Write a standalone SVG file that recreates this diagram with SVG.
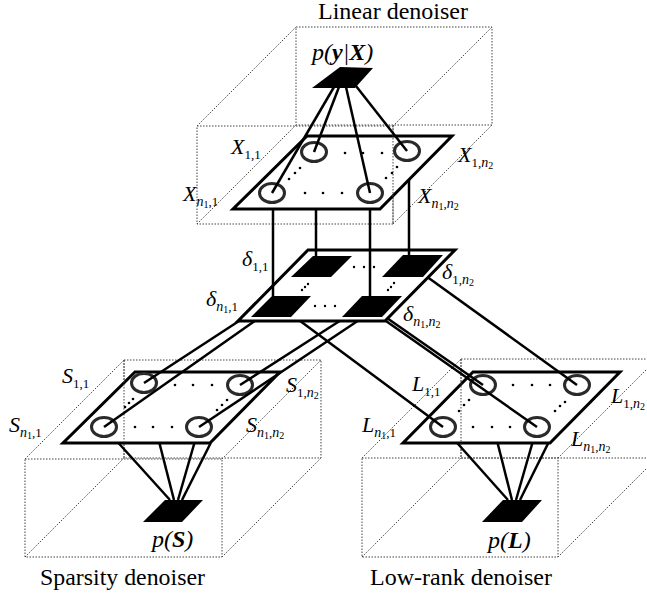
<svg xmlns="http://www.w3.org/2000/svg" width="647" height="595" viewBox="0 0 647 595">
<style>
.box{fill:none;stroke:#444;stroke-width:1;stroke-dasharray:1.5 1.5}
.plane{fill:#fff;stroke:#000;stroke-width:3;stroke-linejoin:miter}
.fac{fill:#000}
.var{fill:none;stroke:#2a2a2a;stroke-width:3}
.dot{fill:#000}
.con{stroke:#000;stroke-width:2.5;fill:none;stroke-linecap:butt}
.lb{font-family:"Liberation Serif",serif;font-style:italic;font-size:22px;fill:#000}
.sb{font-size:13px;font-style:normal}
.sn{font-size:14px;font-style:italic}
.ss{font-size:10px;font-style:normal}
.big{font-family:"Liberation Serif",serif;font-style:italic;font-size:24px;fill:#000}
.ttl{font-family:"Liberation Serif",serif;font-size:23px;fill:#000}
</style>
<defs>
<filter id="soft" x="-20%" y="-20%" width="140%" height="140%"><feGaussianBlur stdDeviation="0.55"/></filter>
</defs>

<!-- dotted boxes -->
<g id="box-linear"><path class="box" d="M197,126H393V224H197Z M296,27H492V125H296Z M197,126L296,27 M393,126L492,27 M393,224L492,125 M197,224L296,125"/></g>
<g id="box-sparsity"><path class="box" d="M25,459H222V557H25Z M124,360H321V458H124Z M25,459L124,360 M222,459L321,360 M222,557L321,458 M25,557L124,458"/></g>
<g id="box-lowrank"><path class="box" d="M362,458H558V557H362Z M461,359H657V458H461Z M362,458L461,359 M558,458L657,359 M558,557L657,458 M362,557L461,458"/></g>

<!-- planes -->
<g id="plane-S"><polygon class="plane" points="135,372 280,372 210,443 63,443"/><path class="box" d="M124,360V458"/></g>
<g id="plane-L"><polygon class="plane" points="473,372 620,372 550,443 403,443"/><path class="box" d="M461,359V458"/></g>
<g id="plane-delta"><polygon class="plane" points="308,250 455,250 385,321 238,321"/></g>
<g id="plane-X"><polygon class="plane" points="307,136 452,136 380,209 233,209"/><path class="box" d="M393,126V224"/></g>

<!-- variable nodes X -->
<g id="X11"><ellipse class="var" filter="url(#soft)" cx="314" cy="152" rx="12.5" ry="9.5"/></g>
<g id="X1n2"><ellipse class="var" filter="url(#soft)" cx="407" cy="151" rx="12.5" ry="9.5"/></g>
<g id="Xn11"><ellipse class="var" filter="url(#soft)" cx="272" cy="193" rx="12.5" ry="9.5"/></g>
<g id="Xn1n2"><ellipse class="var" filter="url(#soft)" cx="370" cy="193" rx="12.5" ry="9.5"/></g>
<g id="X-dots" class="dot">
<circle cx="345" cy="153" r="1.3"/><circle cx="363" cy="153" r="1.3"/><circle cx="382" cy="153" r="1.3"/>
<circle cx="305" cy="193" r="1.3"/><circle cx="323" cy="193" r="1.3"/><circle cx="342" cy="193" r="1.3"/>
<circle cx="300" cy="168" r="1.3"/><circle cx="295" cy="173" r="1.3"/><circle cx="289" cy="179" r="1.3"/>
<circle cx="397" cy="167" r="1.3"/><circle cx="392" cy="173" r="1.3"/><circle cx="386" cy="178" r="1.3"/>
</g>

<!-- delta factor nodes -->
<g id="d11"><polygon class="fac" points="313,256 352,256 331,277 291,277"/></g>
<g id="d1n2"><polygon class="fac" points="403,255 443,255 423,277 382,277"/></g>
<g id="dn11"><polygon class="fac" points="272,296 311,296 291,317 251,317"/></g>
<g id="dn1n2"><polygon class="fac" points="362,296 402,296 382,317 342,317"/></g>
<g id="d-dots" class="dot">
<circle cx="354" cy="267" r="1.2"/><circle cx="364" cy="267" r="1.2"/><circle cx="374" cy="267" r="1.2"/>
<circle cx="315" cy="306" r="1.2"/><circle cx="325" cy="306" r="1.2"/><circle cx="335" cy="306" r="1.2"/>
<circle cx="308" cy="284" r="1.2"/><circle cx="305" cy="287" r="1.2"/><circle cx="302" cy="290" r="1.2"/>
<circle cx="394" cy="283" r="1.2"/><circle cx="391" cy="287" r="1.2"/><circle cx="388" cy="290" r="1.2"/>
</g>

<!-- S variable nodes -->
<g id="S11"><ellipse class="var" filter="url(#soft)" cx="144" cy="383" rx="12.5" ry="9.5"/></g>
<g id="S1n2"><ellipse class="var" filter="url(#soft)" cx="240" cy="385" rx="12.5" ry="9.5"/></g>
<g id="Sn11"><ellipse class="var" filter="url(#soft)" cx="104" cy="427" rx="12.5" ry="9.5"/></g>
<g id="Sn1n2"><ellipse class="var" filter="url(#soft)" cx="199" cy="427" rx="12.5" ry="9.5"/></g>
<g id="S-dots" class="dot">
<circle cx="175" cy="385" r="1.3"/><circle cx="193" cy="385" r="1.3"/><circle cx="212" cy="385" r="1.3"/>
<circle cx="135" cy="427" r="1.3"/><circle cx="153" cy="427" r="1.3"/><circle cx="172" cy="427" r="1.3"/>
<circle cx="133" cy="399" r="1.3"/><circle cx="129" cy="403" r="1.3"/><circle cx="125" cy="407" r="1.3"/>
<circle cx="227" cy="400" r="1.3"/><circle cx="222" cy="405" r="1.3"/><circle cx="217" cy="410" r="1.3"/>
</g>

<!-- L variable nodes -->
<g id="L11"><ellipse class="var" filter="url(#soft)" cx="483" cy="385" rx="12.5" ry="9.5"/></g>
<g id="L1n2"><ellipse class="var" filter="url(#soft)" cx="577" cy="385" rx="12.5" ry="9.5"/></g>
<g id="Ln11"><ellipse class="var" filter="url(#soft)" cx="443" cy="427" rx="12.5" ry="9.5"/></g>
<g id="Ln1n2"><ellipse class="var" filter="url(#soft)" cx="537" cy="427" rx="12.5" ry="9.5"/></g>
<g id="L-dots" class="dot">
<circle cx="513" cy="385" r="1.3"/><circle cx="532" cy="385" r="1.3"/><circle cx="550" cy="385" r="1.3"/>
<circle cx="473" cy="427" r="1.3"/><circle cx="492" cy="427" r="1.3"/><circle cx="510" cy="427" r="1.3"/>
<circle cx="469" cy="400" r="1.3"/><circle cx="464" cy="405" r="1.3"/><circle cx="459" cy="411" r="1.3"/>
<circle cx="565" cy="402" r="1.3"/><circle cx="560" cy="406" r="1.3"/><circle cx="555" cy="411" r="1.3"/>
</g>

<!-- prior / likelihood factors -->
<g id="pyX"><polygon class="fac" points="340,67 373,68 355,88 312,88"/></g>
<g id="pS"><polygon class="fac" points="165,500 203,500 182,522 143,522"/></g>
<g id="pL"><polygon class="fac" points="503,500 542,500 522,522 482,522"/></g>

<!-- connectors -->
<g id="connectors" class="con">
<line x1="334" y1="87" x2="272" y2="193"/>
<line x1="339" y1="87" x2="314" y2="152"/>
<line x1="346" y1="87" x2="370" y2="193"/>
<line x1="356" y1="86" x2="407" y2="151"/>
<line x1="273" y1="209" x2="273" y2="296"/>
<line x1="316" y1="209" x2="316" y2="256"/>
<line x1="370" y1="209" x2="370" y2="297"/>
<line x1="409" y1="179.6" x2="409" y2="255"/>
<line x1="239" y1="321" x2="144" y2="383"/>
<line x1="254.7" y1="321" x2="104" y2="427"/>
<line x1="339.6" y1="321" x2="240" y2="385"/>
<line x1="357.6" y1="321" x2="199" y2="427"/>
<line x1="300.2" y1="321" x2="443" y2="427"/>
<line x1="428" y1="277.5" x2="577" y2="385"/>
<line x1="387.3" y1="318.3" x2="483" y2="385"/>
<line x1="385.6" y1="320.8" x2="537" y2="427"/>
<line x1="118.5" y1="443" x2="170" y2="500"/>
<line x1="159.4" y1="443" x2="174" y2="500"/>
<line x1="194.4" y1="443" x2="178" y2="500"/>
<line x1="210.7" y1="443" x2="182" y2="500"/>
<line x1="457.2" y1="443" x2="508" y2="500"/>
<line x1="497.6" y1="443" x2="512" y2="500"/>
<line x1="532.4" y1="443" x2="516" y2="500"/>
<line x1="548.3" y1="443" x2="520" y2="500"/>
</g>

<!-- labels -->
<g id="labels">
<text class="ttl" x="318" y="19" textLength="150" lengthAdjust="spacingAndGlyphs">Linear denoiser</text>
<text class="ttl" x="40" y="585" textLength="165" lengthAdjust="spacingAndGlyphs">Sparsity denoiser</text>
<text class="ttl" x="370" y="585" textLength="182" lengthAdjust="spacingAndGlyphs">Low-rank denoiser</text>
<text class="big" x="312" y="60">p(<tspan font-weight="bold">y</tspan>|<tspan font-weight="bold">X</tspan>)</text>
<text class="big" x="152" y="547">p(<tspan font-weight="bold">S</tspan>)</text>
<text class="big" x="488" y="548">p(<tspan font-weight="bold">L</tspan>)</text>

<text class="lb" x="231" y="154">X<tspan class="sb" dy="5">1,1</tspan></text>
<text class="lb" x="183" y="201">X<tspan class="sn" dy="5">n</tspan><tspan class="ss" dy="2">1</tspan><tspan class="sb" dy="-2">,1</tspan></text>
<text class="lb" x="458" y="162">X<tspan class="sb" dy="5">1,</tspan><tspan class="sn">n</tspan><tspan class="ss" dy="2">2</tspan></text>
<text class="lb" x="418" y="203">X<tspan class="sn" dy="5">n</tspan><tspan class="ss" dy="2">1</tspan><tspan class="sb" dy="-2">,</tspan><tspan class="sn">n</tspan><tspan class="ss" dy="2">2</tspan></text>

<text class="lb" x="242" y="266">δ<tspan class="sb" dy="5">1,1</tspan></text>
<text class="lb" x="206" y="306">δ<tspan class="sn" dy="5">n</tspan><tspan class="ss" dy="2">1</tspan><tspan class="sb" dy="-2">,1</tspan></text>
<text class="lb" x="442" y="279">δ<tspan class="sb" dy="5">1,</tspan><tspan class="sn">n</tspan><tspan class="ss" dy="2">2</tspan></text>
<text class="lb" x="403" y="321">δ<tspan class="sn" dy="5">n</tspan><tspan class="ss" dy="2">1</tspan><tspan class="sb" dy="-2">,</tspan><tspan class="sn">n</tspan><tspan class="ss" dy="2">2</tspan></text>

<text class="lb" x="62" y="383">S<tspan class="sb" dy="5">1,1</tspan></text>
<text class="lb" x="9" y="432">S<tspan class="sn" dy="5">n</tspan><tspan class="ss" dy="2">1</tspan><tspan class="sb" dy="-2">,1</tspan></text>
<text class="lb" x="286" y="392">S<tspan class="sb" dy="5">1,</tspan><tspan class="sn">n</tspan><tspan class="ss" dy="2">2</tspan></text>
<text class="lb" x="246" y="432">S<tspan class="sn" dy="5">n</tspan><tspan class="ss" dy="2">1</tspan><tspan class="sb" dy="-2">,</tspan><tspan class="sn">n</tspan><tspan class="ss" dy="2">2</tspan></text>

<text class="lb" x="412" y="391">L<tspan class="sb" dy="5">1,1</tspan></text>
<text class="lb" x="362" y="432">L<tspan class="sn" dy="5">n</tspan><tspan class="ss" dy="2">1</tspan><tspan class="sb" dy="-2">,1</tspan></text>
<text class="lb" x="611" y="403">L<tspan class="sb" dy="5">1,</tspan><tspan class="sn">n</tspan><tspan class="ss" dy="2">2</tspan></text>
<text class="lb" x="571" y="446">L<tspan class="sn" dy="5">n</tspan><tspan class="ss" dy="2">1</tspan><tspan class="sb" dy="-2">,</tspan><tspan class="sn">n</tspan><tspan class="ss" dy="2">2</tspan></text>
</g>
</svg>
